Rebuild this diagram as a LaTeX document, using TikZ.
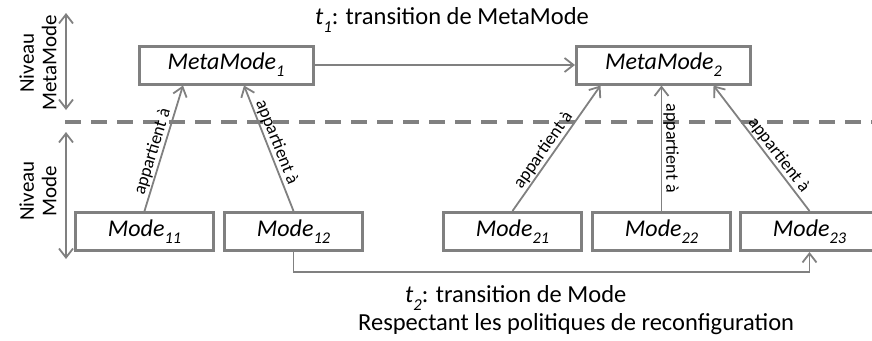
\documentclass[tikz,border=0pt]{standalone}
\usepackage{fontspec}
\setmainfont{Carlito}
\usetikzlibrary{arrows.meta}
\definecolor{linegray}{RGB}{128,128,128}
\newcommand\lowidx[1]{\raisebox{-0.3em}{\scalebox{0.68}{#1}}}
\tikzset{
  modebox/.style={draw=linegray, line width=3pt, fill=white, minimum width=138pt,
    minimum height=38pt, inner sep=0pt, font=\fontsize{24}{28}\selectfont\itshape},
  metabox/.style={modebox, minimum width=174pt},
  arr/.style={draw=linegray, line width=1.8pt,
    -{Straight Barb[length=9pt,width=14pt,line width=1.8pt]}},
  rel/.style={font=\fontsize{18}{20}\selectfont, inner sep=1pt, text=black},
  level/.style={font=\fontsize{21}{22.5}\selectfont, align=center, rotate=90},
  caption/.style={font=\fontsize{24.5}{28}\selectfont, inner sep=0pt}
}
\begin{document}
\begin{tikzpicture}[x=1pt,y=-1pt]
\useasboundingbox (0,0) rectangle (872,340);

% level separator and level extents
\draw[linegray, line width=3.5pt, dash pattern=on 16pt off 10pt] (65,122) -- (880,122);
\coordinate (lvTopA) at (66,13);
\coordinate (lvTopB) at (66,110);
\coordinate (lvBotA) at (66,132);
\coordinate (lvBotB) at (66,259);
\draw[linegray, line width=1.8pt, {Straight Barb[length=9pt,width=14pt,line width=1.8pt]}-{Straight Barb[length=9pt,width=14pt,line width=1.8pt]}] (lvTopA) -- (lvTopB);
\draw[linegray, line width=1.8pt, {Straight Barb[length=9pt,width=14pt,line width=1.8pt]}-{Straight Barb[length=9pt,width=14pt,line width=1.8pt]}] (lvBotA) -- (lvBotB);
\node[level] (lvMeta) at (38,63) {Niveau\\MetaMode};
\node[level] (lvMode) at (38,191) {Niveau\\Mode};

% MetaModes
\node[metabox] (mm1) at (226,65) {MetaMode\lowidx{1}};
\node[metabox] (mm2) at (663.5,65) {MetaMode\lowidx{2}};

% Modes
\node[modebox] (m11) at (144.5,231.5) {Mode\lowidx{11}};
\node[modebox] (m12) at (293.5,231.5) {Mode\lowidx{12}};
\node[modebox] (m21) at (512.5,231.5) {Mode\lowidx{21}};
\node[modebox] (m22) at (661.5,231.5) {Mode\lowidx{22}};
\node[modebox] (m23) at (809.5,231.5) {Mode\lowidx{23}};

% MetaMode transition
\draw[arr] (mm1.east) -- (mm2.west);
\node[caption] (t1) at (452,20) {\textit{t\lowidx{1}}: transition de MetaMode};

% membership links
\draw[arr] (m11.north) -- ([xshift=-43pt]mm1.south)
  node[rel, sloped, above, pos=0.45] {appartient à};
\draw[arr] (m12.north) -- ([xshift=18pt]mm1.south)
  node[rel, sloped, above, pos=0.52] {appartient à};
\draw[arr] (m21.north) -- ([xshift=-63pt]mm2.south)
  node[rel, sloped, above, pos=0.44] {appartient à};
\draw[arr] (m22.north) -- (m22.north |- mm2.south)
  node[rel, rotate=-90, anchor=south, pos=0.5] {appartient à};
\draw[arr] (m23.north) -- ([xshift=50pt]mm2.south)
  node[rel, sloped, above, pos=0.40] {appartient à};

% Mode transition
\draw[arr] (m12.south) -- ++(0,20) -| (m23.south);
\node[caption, anchor=west] (t2) at (405,298) {\textit{t\lowidx{2}}: transition de Mode};
\node[caption, anchor=west] (t2b) at (358,324) {Respectant les politiques de reconfiguration};
\end{tikzpicture}
\end{document}
